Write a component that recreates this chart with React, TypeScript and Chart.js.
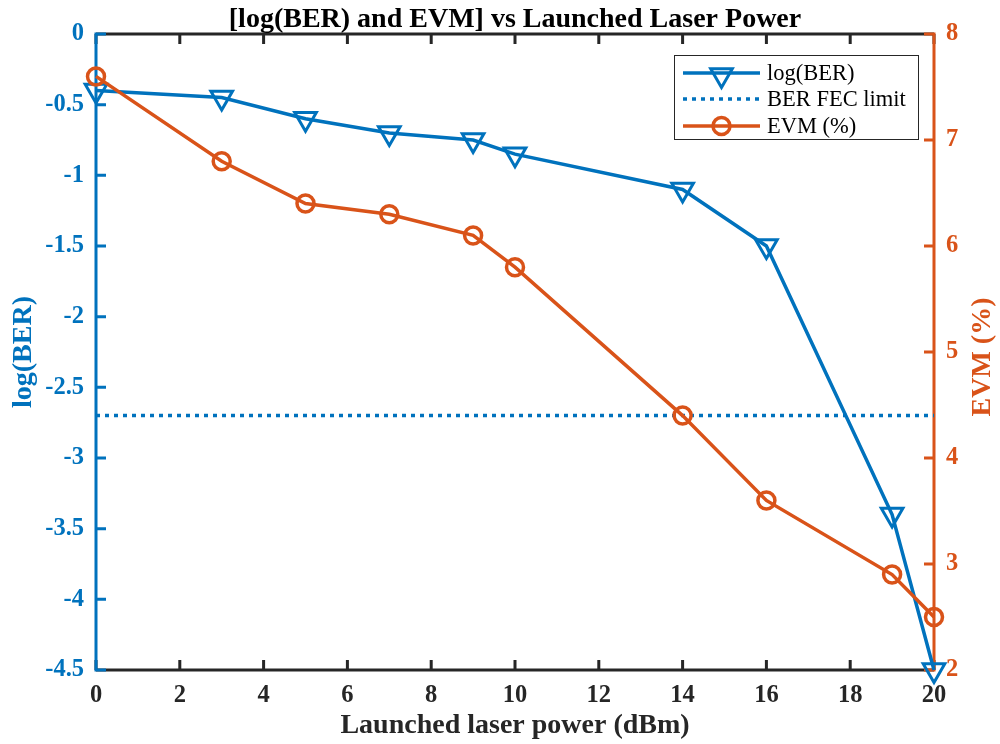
import React, { useEffect, useRef } from "react";
import { Chart, registerables } from "chart.js";

Chart.register(...registerables);

const powerDbm = [0, 3, 5, 7, 9, 10, 14, 16, 19, 20];
const logBer = [-0.4, -0.45, -0.6, -0.7, -0.75, -0.85, -1.1, -1.5, -3.4, -4.5];
const evmPercent = [7.6, 6.8, 6.4, 6.3, 6.1, 5.8, 4.4, 3.6, 2.9, 2.5];
const fecX = [0, 20];
const fecLimit = [-2.7, -2.7];

const BLUE = "#0072BD";
const ORANGE = "#D95319";
const DARK = "#262626";
const FONT = "'Liberation Serif', 'Times New Roman', serif";

const titleText = "[log(BER) and EVM] vs Launched Laser Power";
const xTitle = "Launched laser power (dBm)";
const yTitle = "log(BER)";
const y1Title = "EVM (%)";

const fmt = (v: any) => String(Math.round(Number(v) * 10) / 10);

function drawTriangleDown(ctx: CanvasRenderingContext2D, x: number, y: number, r: number) {
  ctx.beginPath();
  for (let i = 0; i < 3; i++) {
    const a = Math.PI + (i * 2 * Math.PI) / 3;
    const px = x + Math.sin(a) * r;
    const py = y - Math.cos(a) * r;
    if (i === 0) ctx.moveTo(px, py);
    else ctx.lineTo(px, py);
  }
  ctx.closePath();
  ctx.stroke();
}

const axesPlugin = {
  id: "matlabAxes",
  beforeDatasetsDraw(chart: any) {
    const { ctx, chartArea } = chart;
    const { left, right, top, bottom } = chartArea;
    const xs = chart.scales.x;
    const ys = chart.scales.y;
    const y1 = chart.scales.y1;
    const tl = 10;
    ctx.save();
    ctx.lineCap = "butt";
    ctx.lineWidth = 3;
    ctx.strokeStyle = DARK;
    ctx.beginPath();
    ctx.moveTo(left, bottom);
    ctx.lineTo(right, bottom);
    ctx.moveTo(left, top);
    ctx.lineTo(right, top);
    xs.ticks.forEach((t: any) => {
      const px = xs.getPixelForValue(t.value);
      ctx.moveTo(px, bottom);
      ctx.lineTo(px, bottom - tl);
      ctx.moveTo(px, top);
      ctx.lineTo(px, top + tl);
    });
    ctx.stroke();
    ctx.strokeStyle = BLUE;
    ctx.beginPath();
    ctx.moveTo(left, top - 1.5);
    ctx.lineTo(left, bottom + 1.5);
    ys.ticks.forEach((t: any) => {
      const py = ys.getPixelForValue(t.value);
      ctx.moveTo(left, py);
      ctx.lineTo(left + tl, py);
    });
    ctx.stroke();
    ctx.strokeStyle = ORANGE;
    ctx.beginPath();
    ctx.moveTo(right, top - 1.5);
    ctx.lineTo(right, bottom + 1.5);
    y1.ticks.forEach((t: any) => {
      const py = y1.getPixelForValue(t.value);
      ctx.moveTo(right, py);
      ctx.lineTo(right - tl, py);
    });
    ctx.stroke();
    ctx.restore();
  },
  afterDraw(chart: any) {
    const { ctx, chartArea } = chart;
    ctx.save();
    ctx.fillStyle = "#000000";
    ctx.font = `bold 28px ${FONT}`;
    ctx.textAlign = "center";
    ctx.textBaseline = "middle";
    ctx.fillText(titleText, (chartArea.left + chartArea.right) / 2, 20);
    ctx.fillStyle = ORANGE;
    ctx.font = `bold 28px ${FONT}`;
    ctx.translate(983, (chartArea.top + chartArea.bottom) / 2 + 5);
    ctx.rotate(-Math.PI / 2);
    ctx.fillText(y1Title, 0, 0);
    ctx.restore();
  },
};

const legendPlugin = {
  id: "matlabLegend",
  afterDatasetsDraw(chart: any) {
    const { ctx, chartArea } = chart;
    const bx = chartArea.right - 260;
    const by = chartArea.top + 21;
    const bw = 244;
    const bh = 84;
    ctx.save();
    ctx.fillStyle = "#ffffff";
    ctx.fillRect(bx, by, bw, bh);
    ctx.strokeStyle = DARK;
    ctx.lineWidth = 1;
    ctx.strokeRect(bx + 0.5, by + 0.5, bw, bh);
    const rows = [by + 18, by + 44, by + 71];
    const sx0 = bx + 9;
    const sx1 = bx + 86;
    const mx = (sx0 + sx1) / 2;
    const tx = bx + 93;
    const entries = chart.data.datasets;
    const ordered = [entries[1], entries[2], entries[0]];
    ordered.forEach((d: any, i: number) => {
      const y = rows[i];
      ctx.strokeStyle = d.borderColor;
      ctx.lineWidth = d.borderWidth;
      ctx.setLineDash(d.borderDash || []);
      ctx.beginPath();
      ctx.moveTo(sx0, y);
      ctx.lineTo(sx1, y);
      ctx.stroke();
      ctx.setLineDash([]);
      ctx.lineWidth = d.pointBorderWidth || 2;
      if (d.pointStyle === "triangle" && d.pointRadius > 0) {
        drawTriangleDown(ctx, mx, y + 2, d.pointRadius);
      } else if (d.pointStyle === "circle" && d.pointRadius > 0) {
        ctx.beginPath();
        ctx.arc(mx, y, d.pointRadius, 0, Math.PI * 2);
        ctx.stroke();
      }
      ctx.fillStyle = "#000000";
      ctx.font = `22.5px ${FONT}`;
      ctx.textAlign = "left";
      ctx.textBaseline = "middle";
      ctx.fillText(d.label, tx, y + 1);
    });
    ctx.restore();
  },
};

export default function App() {
  const ref = useRef<HTMLCanvasElement | null>(null);
  useEffect(() => {
    if (!ref.current) return;
    const chart = new Chart(ref.current, {
      type: "line",
      data: {
        datasets: [
          {
            label: "EVM (%)",
            data: powerDbm.map((x, i) => ({ x, y: evmPercent[i] })),
            yAxisID: "y1",
            borderColor: ORANGE,
            borderWidth: 3.5,
            pointStyle: "circle",
            pointRadius: 8.5,
            pointBorderWidth: 3.5,
            pointBorderColor: ORANGE,
            pointBackgroundColor: "rgba(0,0,0,0)",
            order: 0,
            clip: false as any,
          } as any,
          {
            label: "log(BER)",
            data: powerDbm.map((x, i) => ({ x, y: logBer[i] })),
            yAxisID: "y",
            borderColor: BLUE,
            borderWidth: 3.5,
            pointStyle: "triangle",
            pointRotation: 180,
            pointRadius: 12.5,
            pointBorderWidth: 3,
            pointBorderColor: BLUE,
            pointBackgroundColor: "rgba(0,0,0,0)",
            order: 1,
            clip: false as any,
          } as any,
          {
            label: "BER FEC limit",
            data: fecX.map((x, i) => ({ x, y: fecLimit[i] })),
            yAxisID: "y",
            borderColor: BLUE,
            borderWidth: 3.5,
            borderDash: [4, 5],
            borderCapStyle: "butt",
            pointRadius: 0,
            pointStyle: "line",
            order: 2,
          } as any,
        ],
      },
      options: {
        responsive: false,
        animation: false,
        devicePixelRatio: 1,
        layout: { padding: { top: 34, left: 0, right: 0, bottom: 0 } },
        plugins: {
          legend: { display: false },
          tooltip: { enabled: false },
          title: { display: false },
        },
        elements: { line: { tension: 0 } },
        scales: {
          x: {
            type: "linear",
            min: 0,
            max: 20,
            grid: { display: false, drawTicks: false },
            border: { display: false },
            ticks: {
              stepSize: 2,
              autoSkip: false,
              maxRotation: 0,
              padding: 11,
              color: DARK,
              callback: fmt,
              font: { family: FONT, size: 24.5, weight: "bold" },
            },
            title: {
              display: true,
              text: xTitle,
              color: DARK,
              font: { family: FONT, size: 28, weight: "bold" },
              padding: { top: 0, bottom: 1 },
            },
            afterFit: (s: any) => {
              s.height = 74;
            },
          },
          y: {
            type: "linear",
            position: "left",
            min: -4.5,
            max: 0,
            grid: { display: false, drawTicks: false },
            border: { display: false },
            ticks: {
              stepSize: 0.5,
              autoSkip: false,
              padding: 12,
              color: BLUE,
              callback: fmt,
              font: { family: FONT, size: 24.5, weight: "bold" },
            },
            title: {
              display: true,
              text: yTitle,
              color: BLUE,
              font: { family: FONT, size: 28, weight: "bold" },
              padding: { top: 7, bottom: 0 },
            },
            afterFit: (s: any) => {
              s.width = 96;
            },
          },
          y1: {
            type: "linear",
            position: "right",
            min: 2,
            max: 8,
            grid: { display: false, drawTicks: false },
            border: { display: false },
            ticks: {
              stepSize: 1,
              autoSkip: false,
              padding: 12,
              color: ORANGE,
              callback: fmt,
              font: { family: FONT, size: 24.5, weight: "bold" },
            },
            afterFit: (s: any) => {
              s.width = 66;
            },
          },
        },
      } as any,
      plugins: [axesPlugin, legendPlugin],
    });
    return () => chart.destroy();
  }, []);
  return (
    <div style={{ position: "fixed", left: 0, top: 0, width: 1000, height: 744, background: "#ffffff" }}>
      <canvas ref={ref} width={1000} height={744} style={{ display: "block" }} />
    </div>
  );
}
